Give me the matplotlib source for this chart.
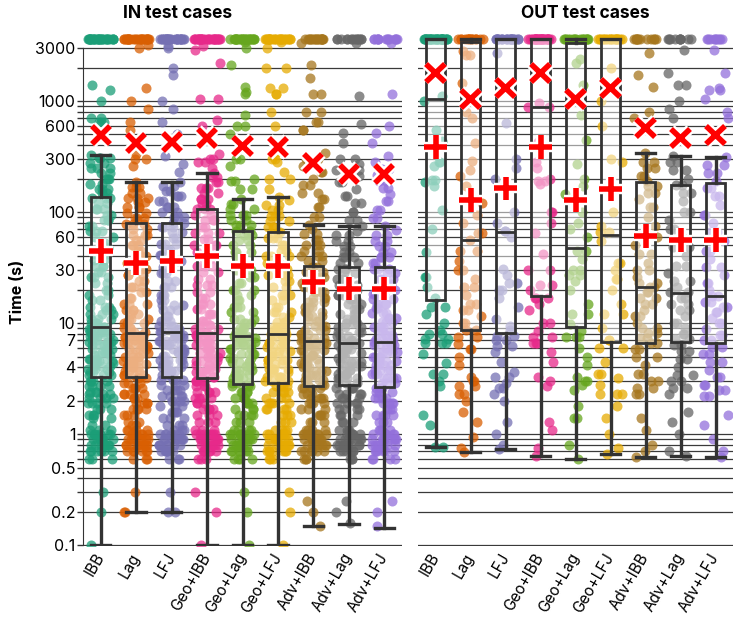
import numpy as np
import matplotlib
matplotlib.use("Agg")
import matplotlib.pyplot as plt
from matplotlib import patheffects as pe
from matplotlib.ticker import NullFormatter

plt.rcParams['font.family'] = ['Inter', 'DejaVu Sans']

methods = ["IBB", "Lag", "LFJ", "Geo+IBB", "Geo+Lag", "Geo+LFJ",
           "Adv+IBB", "Adv+Lag", "Adv+LFJ"]
colors = ["#1b9e77", "#d95f02", "#7570b3", "#e7298a", "#66a61e",
          "#e6ab02", "#a6761d", "#666666", "#9370db"]
TIMEOUT = 3600

# solved run times in seconds, as (time, number of cases)
in_times = [
    [(0.1,1),(0.2,1),(0.3,1),(0.6,3),(0.7,6),(0.8,7),(0.9,7),(1.0,6),(1.1,3),(1.2,2),(1.4,2),(1.5,3),(1.7,3),(1.9,4),(2.1,4),(2.3,3),(2.4,3),(2.7,4),(3.0,4),
     (3.4,3),(3.6,3),(3.9,3),(4.1,3),(4.4,3),(4.6,3),(4.8,4),(5.2,3),(5.5,3),(5.9,4),(6.3,3),(6.7,4),(7.1,3),(7.6,4),(8.0,3),(8.4,4),(8.9,3),(9.2,3),
     (10,3),(11,3),(12,3),(13,2),(14,3),(16,2),(18,2),(20,2),(23,2),(26,3),(29,2),(33,3),(37,2),(42,3),(47,2),(53,3),(60,2),(67,3),(75,2),(84,3),(95,2),(107,3),(120,2),(133,3),
     (148,2),(162,3),(180,2),(200,3),(225,2),(250,3),(275,2),(305,3),(326,1),(650,3),(700,2),(1000,1),(1250,1),(1400,1)],
    [(0.2,2),(0.3,1),(0.6,3),(0.7,6),(0.8,8),(0.9,7),(1.0,6),(1.1,4),(1.2,2),(1.3,2),(1.5,3),(1.7,4),(1.9,4),(2.1,3),(2.3,4),(2.6,4),(2.9,3),(3.2,3),
     (3.4,4),(3.7,3),(4.0,4),(4.3,3),(4.6,4),(5.0,4),(5.4,3),(5.8,4),(6.2,4),(6.6,3),(7.0,4),(7.5,4),(7.9,3),
     (8.3,3),(9.0,3),(10,3),(11,3),(12,2),(13,3),(15,3),(17,2),(19,2),(21,3),(24,2),(27,3),(31,2),(35,3),(40,2),(45,2),(50,3),(56,2),(62,3),(70,2),(78,3),
     (88,3),(98,2),(110,3),(122,2),(135,3),(150,2),(168,3),(187,1),(260,1),(300,2),(330,1),(550,1),(650,1),(850,1),(1000,1),(1300,1),(3000,1),(3200,1)],
    [(0.2,2),(0.3,1),(0.6,3),(0.7,6),(0.8,7),(0.9,8),(1.0,6),(1.1,3),(1.2,3),(1.4,3),(1.6,4),(1.8,3),(2.0,4),(2.2,4),(2.5,4),(2.8,3),(3.1,4),
     (3.4,3),(3.7,4),(4.0,3),(4.3,4),(4.7,4),(5.1,3),(5.5,4),(5.9,3),(6.4,4),(6.9,4),(7.4,3),(7.9,4),(8.3,3),
     (8.8,3),(9.5,3),(10.5,3),(11.5,2),(13,3),(14.5,3),(16,2),(18,3),(21,3),(24,2),(28,3),(32,2),(36,3),(41,2),(46,2),(52,3),(59,2),(66,2),(74,3),(80,2),
     (90,3),(100,2),(112,3),(125,2),(140,3),(155,2),(170,2),(187,1),(230,1),(270,1),(320,1),(500,1),(650,1),(850,1),(1000,1),(1700,1),(2000,1),(3000,1),(3100,1)],
    [(0.1,1),(0.2,1),(0.3,1),(0.6,3),(0.7,6),(0.8,7),(0.9,7),(1.0,7),(1.1,3),(1.3,3),(1.5,3),(1.7,4),(1.9,3),(2.1,4),(2.4,4),(2.7,3),(3.0,4),
     (3.3,3),(3.6,4),(3.9,3),(4.2,4),(4.6,3),(5.0,4),(5.4,3),(5.8,4),(6.3,3),(6.8,4),(7.3,3),(7.8,3),(8.2,3),
     (8.8,3),(9.6,3),(10.5,3),(12,3),(13.5,2),(15,3),(17,2),(19,2),(22,3),(25,2),(29,2),(33,3),(38,2),(44,2),(50,3),(57,2),(65,3),(74,2),(84,3),(95,2),(106,3),
     (118,2),(132,3),(148,2),(165,3),(185,2),(205,2),(226,1),(250,1),(280,2),(300,2),(330,1),(600,1),(680,1),(1050,2),(2200,1),(2900,1),(3100,1)],
    [(0.1,1),(0.2,1),(0.3,1),(0.6,4),(0.7,6),(0.8,7),(0.9,7),(1.0,7),(1.1,4),(1.3,3),(1.5,4),(1.7,3),(1.9,4),(2.1,4),(2.4,4),(2.7,3),
     (2.9,3),(3.2,4),(3.5,3),(3.8,4),(4.1,3),(4.5,4),(4.9,3),(5.3,4),(5.8,3),(6.3,4),(6.8,3),(7.3,3),(7.7,3),
     (8.3,3),(9.0,3),(10,3),(11,3),(12.5,2),(14,3),(16,2),(18,2),(20,3),(23,2),(26,2),(30,3),(34,2),(39,2),(44,3),(50,2),(56,2),(62,3),(68,2),
     (76,3),(85,2),(95,3),(106,2),(118,2),(130,1),(160,2),(190,2),(200,1),(260,1),(300,2),(500,1),(600,2),(750,1),(1150,1),(1200,1),(1350,1),(2100,1),(3000,1),(3400,1)],
    [(0.1,1),(0.2,1),(0.3,1),(0.6,3),(0.7,7),(0.8,7),(0.9,7),(1.0,6),(1.1,4),(1.3,3),(1.5,3),(1.7,4),(1.9,4),(2.1,3),(2.4,4),(2.7,4),
     (3.0,3),(3.3,4),(3.6,3),(3.9,4),(4.3,3),(4.7,4),(5.1,3),(5.6,4),(6.1,3),(6.6,4),(7.1,3),(7.6,3),(8.0,3),
     (8.6,3),(9.3,3),(10.2,3),(11.3,2),(12.6,3),(14,2),(16,2),(18,3),(21,2),(24,2),(27,3),(31,2),(35,2),(40,3),(45,2),(51,2),(58,3),(66,2),
     (74,3),(83,2),(93,3),(104,2),(116,2),(128,1),(137,1),(160,1),(200,2),(230,1),(280,1),(300,2),(350,1),(600,1),(800,1),(1150,2),(1300,2),(2000,2),(3000,1),(3400,1)],
    [(0.15,1),(0.2,1),(0.25,1),(0.6,3),(0.7,6),(0.8,7),(0.9,7),(1.0,7),(1.1,4),(1.3,3),(1.5,4),(1.7,3),(1.9,4),(2.1,4),(2.3,3),(2.6,4),
     (2.8,3),(3.1,4),(3.4,4),(3.7,3),(4.0,4),(4.4,4),(4.8,3),(5.2,4),(5.7,4),(6.2,3),(6.6,4),(6.9,3),
     (7.4,3),(8.0,3),(8.7,3),(9.5,3),(10.5,3),(11.5,3),(12.7,3),(14,3),(15.5,3),(17,3),(19,3),(21,3),(23,2),(26,3),(29,2),(32,3),
     (36,2),(40,3),(45,2),(50,3),(56,2),(63,2),(70,1),(76,1),(90,2),(110,2),(130,2),(150,2),(175,2),(200,1),(230,2),(260,1),(300,2),(340,1),(550,2),(650,2),(800,2),(1150,2),(1600,1),(2100,1),(3300,1)],
    [(0.16,1),(0.2,1),(0.25,1),(0.6,3),(0.7,6),(0.8,8),(0.9,7),(1.0,7),(1.1,4),(1.3,3),(1.5,3),(1.7,4),(1.9,4),(2.1,3),(2.3,4),(2.6,4),
     (2.9,3),(3.2,4),(3.5,4),(3.8,3),(4.1,4),(4.5,4),(4.9,3),(5.4,4),(5.9,4),(6.3,3),(6.6,3),
     (7.1,3),(7.7,3),(8.4,3),(9.2,3),(10,3),(11,3),(12,3),(13.5,3),(15,3),(16.5,3),(18,3),(20,3),(22,2),(25,3),(28,2),(31,3),
     (35,2),(39,3),(44,2),(49,2),(55,2),(62,2),(68,1),(75,1),(85,2),(100,2),(120,2),(140,2),(160,1),(185,2),(210,1),(240,2),(270,1),(300,2),(420,1),(510,1),(620,1),(1100,1),(3300,1)],
    [(0.15,1),(0.2,1),(0.25,1),(0.6,4),(0.7,6),(0.8,7),(0.9,8),(1.0,6),(1.1,4),(1.3,3),(1.5,4),(1.7,3),(1.9,4),(2.1,4),(2.4,3),(2.6,4),
     (2.9,3),(3.2,4),(3.5,3),(3.8,4),(4.2,4),(4.6,3),(5.0,4),(5.5,4),(6.0,3),(6.4,4),(6.7,3),
     (7.2,3),(7.8,3),(8.5,3),(9.3,3),(10.2,3),(11.2,3),(12.3,3),(13.6,3),(15,3),(16.6,3),(18.3,3),(20,3),(22.5,2),(25,3),(28,2),(31,3),
     (35,2),(39,3),(44,2),(49,2),(55,2),(62,2),(69,1),(75,1),(88,2),(105,2),(125,2),(145,1),(165,2),(190,2),(215,1),(245,2),(280,1),(320,1),(420,1),(520,1),(600,1),(1150,1),(3300,1)],
]
in_timeouts = [30, 26, 27, 28, 25, 25, 18, 14, 14]

out_times = [
    [(0.76,2),(1.2,1),(1.5,1),(2.7,1),(3.0,1),(3.5,2),(4.4,1),(5.3,1),(6.6,3),(7.2,2),(8.0,2),(8.7,1),(10,1),(12,1),(14,2),(17,1),(21,1),(26,2),
     (44,1),(70,1),(105,1),(170,1),(185,1),(195,2),(260,1),(280,2),(440,1),(550,1),(1000,1),(1100,1)],
    [(0.69,1),(0.75,1),(0.95,1),(1.3,1),(1.6,1),(2.0,1),(2.3,2),(2.7,2),(3.0,2),(3.3,1),(4.2,1),(5,1),(5.8,2),(6.5,1),(7.5,2),(8.6,2),(10,2),(11.5,1),
     (13,2),(15,2),(18,1),(21,2),(25,1),(30,2),(36,1),(45,2),(56,1),(65,2),(80,1),(95,1),(120,1),(170,1),(210,1),(240,1),(290,1),(420,1),(700,1),(800,1),(1440,1),(2600,2),(2800,1)],
    [(0.73,1),(0.8,1),(1.0,1),(1.3,1),(2.0,1),(2.3,1),(2.6,2),(2.9,1),(3.3,2),(3.6,1),(4.5,1),(5.5,1),(6.2,2),(7.0,2),(7.6,2),(8.6,1),(9.5,1),(11,1),
     (14,1),(17,1),(20,2),(23,2),(27,1),(31,1),(60,1),(68,2),(80,1),(100,1),(200,1),(250,1),(300,1),(630,1),(2700,1)],
    [(0.64,1),(0.75,1),(1.1,1),(1.3,1),(2.7,1),(3.0,1),(3.3,1),(4.5,1),(5.5,1),(6.6,3),(7.5,2),(8.5,1),(10,2),(13,1),(15,1),(17,3),(20,1),(22,2),
     (30,2),(42,1),(65,1),(80,1),(100,2),(180,1),(190,2),(200,1),(250,1),(280,1),(430,1),(880,2),(950,1)],
    [(0.6,1),(0.8,1),(1.4,2),(1.8,1),(2.5,1),(2.8,1),(3.0,2),(3.3,1),(4.2,1),(5,1),(6,1),(7.5,3),(8.5,1),(9.8,1),(12,2),(15,1),(20,1),(24,1),
     (27,2),(30,2),(38,1),(45,2),(60,1),(70,1),(80,1),(100,1),(145,1),(170,1),(200,1),(270,1),(450,1),(750,1),(1000,1),(1400,1),(2200,1),(2400,1)],
    [(0.67,1),(0.75,1),(1.0,1),(1.4,1),(1.8,1),(2.3,3),(2.8,1),(3.2,1),(3.5,2),(4.5,1),(6,2),(7,2),(9,1),(12,2),(15,1),(20,1),(25,2),(30,1),
     (35,2),(55,1),(66,2),(75,1),(100,1),(280,1),(300,1),(600,1),(1000,1),(2000,1)],
    [(0.62,1),(0.7,1),(0.8,1),(1.1,1),(1.4,1),(2.3,2),(2.6,2),(3.0,2),(3.5,2),(4.2,1),(5,2),(5.8,2),(6.6,2),(7.3,2),(8.1,2),(9,2),(10,1),(11.5,2),
     (13,1),(15,2),(17,2),(19,2),(21,2),(23,2),(26,1),(30,2),(35,1),(42,2),(50,1),(60,2),(75,1),(90,1),(110,2),(130,1),(150,2),(170,2),(190,1),
     (210,2),(250,2),(280,2),(338,1),(700,1),(800,1),(1330,1),(1700,1),(2700,1)],
    [(0.64,1),(0.7,1),(1.0,1),(1.3,1),(1.6,1),(2.3,1),(2.6,2),(3.0,2),(3.4,2),(4.0,1),(4.8,2),(5.6,2),(6.4,2),(7.2,2),(8,2),(9,1),(10,2),(11.5,1),
     (13,2),(15,2),(17,2),(19,2),(21,1),(24,2),(28,1),(33,2),(40,1),(48,2),(58,1),(70,2),(85,1),(100,2),(125,1),(150,2),(175,2),(200,1),
     (240,2),(280,2),(320,1),(450,1),(700,1),(850,1),(1000,1),(1400,2),(1800,1),(2900,1)],
    [(0.62,1),(0.7,1),(0.9,1),(1.2,1),(1.5,1),(2.2,2),(2.5,2),(2.8,2),(3.3,2),(3.8,1),(4.5,2),(5.3,2),(6.1,2),(7,2),(7.8,2),(8.8,1),(10,2),(11.2,1),
     (12.5,2),(14,2),(15.5,2),(17.5,2),(20,1),(23,2),(27,1),(32,2),(38,1),(45,2),(55,1),(66,2),(80,1),(95,2),(115,1),(140,2),(165,2),(190,1),
     (225,2),(265,2),(316,1),(500,1),(700,1),(800,1),(1050,1),(1250,2),(1300,1),(1800,1),(2900,1)],
]
out_timeouts = [34, 17, 22, 33, 17, 20, 12, 10, 10]

# box summaries (timeouts counted as 3600 s)
in_q1 = [3.3, 3.28, 3.3, 3.2, 2.82, 2.88, 2.71, 2.76, 2.67]
in_med = [9.3, 8.1, 8.4, 8.2, 7.7, 7.95, 6.9, 6.56, 6.7]
in_q3 = [137, 80, 80, 106, 68, 66.5, 33, 31.8, 31.8]
in_lo = [0.1, 0.2, 0.2, 0.1, 0.1, 0.1, 0.149, 0.157, 0.144]
in_hi = [326, 187, 187, 226, 130, 137, 76, 75, 75]
in_mean_solved = [44.8, 35, 36, 40, 32.6, 32.6, 23.6, 20.5, 20.5]
in_mean_all = [494, 421, 430, 461, 396, 387, 275, 220, 220]

out_q1 = [16.1, 8.67, 8.2, 17.5, 9.3, 6.8, 6.56, 6.7, 6.56]
out_med = [1042, 56, 65.6, 877, 47, 62, 21, 18.5, 17.5]
out_q3 = [3600, 3380, 3600, 3600, 3310, 3600, 187, 176, 184]
out_lo = [0.76, 0.69, 0.73, 0.64, 0.6, 0.67, 0.62, 0.64, 0.62]
out_hi = [3600, 3600, 3600, 3600, 3600, 3600, 338, 320, 316]
out_mean_solved = [387, 128, 163, 387, 128, 161, 61, 56, 56]
out_mean_all = [1798, 1042, 1300, 1780, 1042, 1300, 567, 461, 494]

major_ticks = [0.1, 0.2, 0.5, 1, 2, 4, 7, 10, 30, 60, 100, 300, 600, 1000, 3000]
grid_levels = [k * 10.0 ** e for e in range(-1, 3) for k in range(1, 10)] + [1000, 2000, 3000]
minor_ticks = [v for v in grid_levels if not any(abs(v - m) < 1e-9 for m in major_ticks)]

DARK = "#333333"
rng = np.random.default_rng(11)


def expand(pairs, n_timeout):
    vals = np.repeat([v for v, _ in pairs], [c for _, c in pairs])
    return np.concatenate([vals, np.full(n_timeout, TIMEOUT)])


def draw_panel(ax, times, timeouts, q1, med, q3, lo, hi, mean_solved, mean_all):
    for i, (pairs, nto) in enumerate(zip(times, timeouts)):
        y = expand(pairs, nto)
        x = i + rng.uniform(-0.36, 0.36, len(y))
        ax.scatter(x, y, s=52, color=colors[i], alpha=0.75, linewidths=0,
                   zorder=2)
    stats = [dict(med=m, q1=a, q3=b, whislo=l, whishi=h, fliers=[])
             for m, a, b, l, h in zip(med, q1, q3, lo, hi)]
    ax.bxp(stats, positions=range(len(methods)), widths=0.55,
           patch_artist=True, showfliers=False, capwidths=0.55,
           boxprops=dict(facecolor=(1, 1, 1, 0.5), edgecolor=DARK, linewidth=2),
           medianprops=dict(color=DARK, linewidth=2),
           whiskerprops=dict(color=DARK, linewidth=2.4),
           capprops=dict(color=DARK, linewidth=2.4), zorder=4)
    halo = [pe.Stroke(linewidth=7.5, foreground="white"), pe.Normal()]
    ax.plot(range(len(methods)), mean_all, ls="none", marker="x", ms=13,
            mew=4, color="#ff0000", zorder=7, path_effects=halo)
    ax.plot(range(len(methods)), mean_solved, ls="none", marker="+", ms=17,
            mew=4, color="#ff0000", zorder=7, path_effects=halo)

    ax.set_yscale("log")
    ax.set_ylim(0.0985, 4180)
    ax.set_xlim(-0.5, len(methods) - 0.5)
    ax.set_yticks(major_ticks)
    ax.set_yticks(minor_ticks, minor=True)
    ax.set_yticklabels([f"{v:g}" for v in major_ticks])
    ax.yaxis.set_minor_formatter(NullFormatter())
    for v in grid_levels:
        ax.axhline(v, color="#3a3a3a", lw=0.9, zorder=1.5)
    ax.set_xticks(range(len(methods)))
    ax.set_xticklabels(methods, rotation=60, ha="right", va="center",
                       rotation_mode="anchor", fontsize=11)
    ax.tick_params(axis="x", length=0, pad=6)
    for s in ("top", "right", "bottom", "left"):
        ax.spines[s].set_visible(False)


fig = plt.figure(figsize=(7.33, 6.19), dpi=100)
ax_in = fig.add_axes([83 / 733, 73 / 619, 319 / 733, 514 / 619])
ax_out = fig.add_axes([418 / 733, 73 / 619, 315 / 733, 514 / 619])

draw_panel(ax_in, in_times, in_timeouts, in_q1, in_med, in_q3, in_lo, in_hi,
           in_mean_solved, in_mean_all)
draw_panel(ax_out, out_times, out_timeouts, out_q1, out_med, out_q3, out_lo,
           out_hi, out_mean_solved, out_mean_all)

ax_in.spines["left"].set_visible(True)
ax_in.spines["left"].set_bounds(0.1, 3000)
ax_in.spines["left"].set_color(DARK)
ax_in.tick_params(axis="y", which="both", length=4, width=1, color=DARK,
                  labelsize=11.5, pad=1.5)
ax_out.tick_params(axis="y", which="both", left=False, labelleft=False)

fig.text(178 / 733, 1 - 14 / 619, "IN test cases", ha="center", va="center",
         fontsize=12.5, fontweight="bold")
fig.text(585 / 733, 1 - 14 / 619, "OUT test cases", ha="center", va="center",
         fontsize=12.5, fontweight="bold")
fig.text(18 / 733, 1 - 292 / 619, "Time (s)", rotation=90, ha="center",
         va="center", fontsize=11.5, fontweight="bold")

fig.savefig("out.png", dpi=100)
